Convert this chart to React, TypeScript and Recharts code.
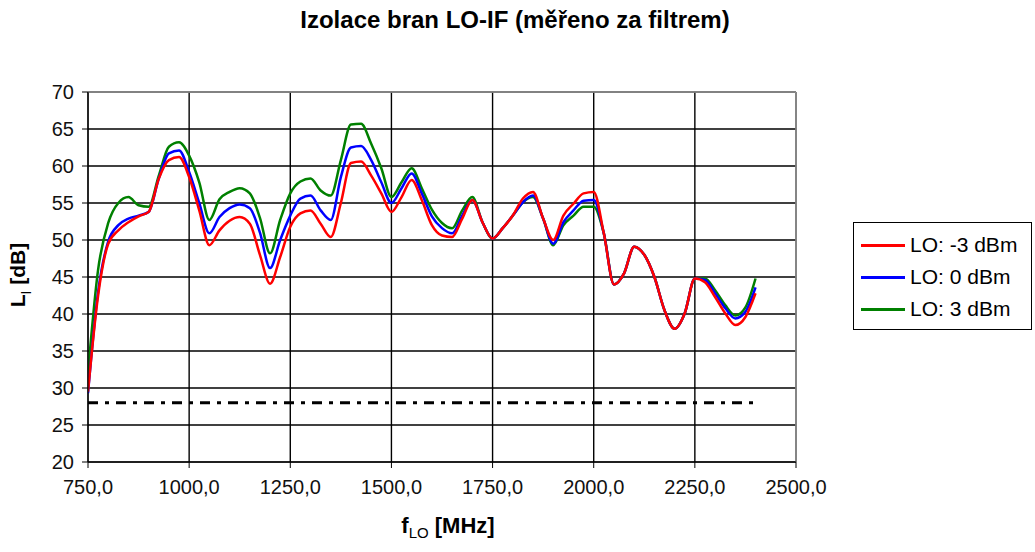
import {
  LineChart,
  Line,
  XAxis,
  YAxis,
  CartesianGrid,
  ReferenceLine,
} from "recharts";

const freq = [
  750, 775, 800, 825, 850, 875, 900, 925, 950, 975, 1000, 1025, 1050, 1075, 1100,
  1125, 1150, 1175, 1200, 1225, 1250, 1275, 1300, 1325, 1350, 1375, 1400, 1425,
  1450, 1475, 1500, 1525, 1550, 1575, 1600, 1625, 1650, 1675, 1700, 1725, 1750,
  1775, 1800, 1825, 1850, 1875, 1900, 1925, 1950, 1975, 2000, 2025, 2050, 2075,
  2100, 2125, 2150, 2175, 2200, 2225, 2250, 2275, 2300, 2325, 2350, 2375, 2400,
];

const loMinus3 = [
  29.5, 42.5, 49.5, 51.3, 52.4, 53.2, 53.8, 58.3, 60.8, 61.2, 58.5, 54, 49.3,
  51.3, 52.6, 53.1, 52.2, 48, 44.1, 47.7, 51.8, 53.6, 54, 52.2, 50.4, 55, 60.4,
  60.6, 58.7, 56.3, 53.8, 55.8, 58.1, 55.4, 52, 50.6, 50.4, 52.9, 55.4, 52.4,
  50.2, 51.6, 53.3, 55.6, 56.5, 52.9, 50, 53.3, 54.9, 56.3, 56.5, 50.9, 44, 45.5,
  49.1, 48, 45, 40.5, 38, 40.1, 44.8, 44.3, 42.3, 40.1, 38.5, 39.6, 42.8,
];

const lo0 = [
  29.3, 43, 49.8, 52, 52.9, 53.3, 53.8, 58.3, 61.7, 62.1, 59.2, 55, 50.9, 53.1,
  54.3, 54.8, 54.3, 51, 46.2, 50, 53.3, 55.6, 56, 54, 52.7, 58.5, 62.5, 62.7,
  60.8, 57.8, 55, 57, 59, 56.3, 53.2, 51.6, 50.9, 53.3, 55.4, 52.4, 50.2, 51.6,
  53.3, 55.1, 56, 52.9, 49.5, 52.4, 54, 55.3, 55.4, 50.9, 44, 45.5, 49.1, 48,
  45, 40.5, 38, 40.1, 44.8, 44.6, 42.8, 40.8, 39.4, 40.3, 43.6,
];

const lo3 = [
  32, 46, 52.3, 55, 55.8, 54.7, 54.5, 58.7, 62.6, 63.2, 61.4, 57.8, 52.7, 55.5,
  56.5, 57, 56.3, 53, 48.2, 52.7, 56.3, 57.9, 58.3, 56.7, 56, 60.8, 65.6, 65.7,
  63, 59.7, 55.8, 57.8, 59.7, 57, 54.1, 52.3, 51.6, 54, 55.8, 52.4, 50.2, 51.6,
  53.3, 55.1, 55.8, 52.9, 49.3, 52, 53.3, 54.5, 54.5, 50.9, 44, 45.5, 49.1, 48,
  45, 40.5, 38, 40.1, 44.8, 44.8, 43.2, 41.2, 39.8, 40.9, 44.8,
];

const limitFreq = [750, 2400];
const limitValue = [28, 28];

const xTicks = [750, 1000, 1250, 1500, 1750, 2000, 2250, 2500];
const yTicks = [20, 25, 30, 35, 40, 45, 50, 55, 60, 65, 70];

const seriesNames = ["LO: -3 dBm", "LO: 0 dBm", "LO: 3 dBm"];
const seriesColors = ["#ff0000", "#0000ff", "#008000"];

const data = freq.map((f, i) => ({
  freq: f,
  m3: loMinus3[i],
  z0: lo0[i],
  p3: lo3[i],
}));

const limitData = limitFreq.map((f, i) => ({ freq: f, limit: limitValue[i] }));

const font = "'Liberation Sans', Arial, sans-serif";
const tickStyle = { fill: "#111", fontSize: 20, fontFamily: font };

export default function App() {
  return (
    <div
      style={{
        position: "absolute",
        left: 0,
        top: 0,
        width: 1035,
        height: 552,
        background: "#fff",
        fontFamily: font,
      }}
    >
      <div
        style={{
          position: "absolute",
          top: 6,
          left: 0,
          width: 1030,
          textAlign: "center",
          fontWeight: "bold",
          fontSize: 24,
        }}
      >
        Izolace bran LO-IF (měřeno za filtrem)
      </div>

      <LineChart
        width={1035}
        height={552}
        data={data}
        margin={{ top: 92, right: 239, left: 0, bottom: 60 }}
      >
        <CartesianGrid stroke="#000" strokeWidth={1.4} />
        <XAxis
          dataKey="freq"
          type="number"
          domain={[750, 2500]}
          ticks={xTicks}
          allowDataOverflow
          height={30}
          tick={tickStyle}
          tickSize={6}
          tickMargin={12}
          tickLine={{ stroke: "#000" }}
          axisLine={{ stroke: "#000" }}
          tickFormatter={(v: number) => v.toFixed(1).replace(".", ",")}
        />
        <YAxis
          domain={[20, 70]}
          ticks={yTicks}
          width={88}
          tick={tickStyle}
          tickSize={6}
          tickMargin={8}
          tickLine={{ stroke: "#000" }}
          axisLine={{ stroke: "#000" }}
        />
        <ReferenceLine y={70} stroke="#999" strokeWidth={1.5} />
        <ReferenceLine x={2500} stroke="#999" strokeWidth={1.5} />
        <Line
          data={limitData}
          dataKey="limit"
          type="linear"
          stroke="#000"
          strokeWidth={3}
          strokeDasharray="10 7 4 7"
          dot={false}
          activeDot={false}
          isAnimationActive={false}
        />
        <Line
          dataKey="p3"
          type="monotone"
          stroke={seriesColors[2]}
          strokeWidth={2.5}
          dot={false}
          activeDot={false}
          isAnimationActive={false}
        />
        <Line
          dataKey="z0"
          type="monotone"
          stroke={seriesColors[1]}
          strokeWidth={2.5}
          dot={false}
          activeDot={false}
          isAnimationActive={false}
        />
        <Line
          dataKey="m3"
          type="monotone"
          stroke={seriesColors[0]}
          strokeWidth={2.5}
          dot={false}
          activeDot={false}
          isAnimationActive={false}
        />
      </LineChart>

      {/* y axis title */}
      <div
        style={{
          position: "absolute",
          left: 20,
          top: 275,
          transform: "translate(-50%, -50%) rotate(-90deg)",
          whiteSpace: "nowrap",
          fontWeight: "bold",
          fontSize: 21,
        }}
      >
        L<sub style={{ fontSize: 14, fontWeight: "normal" }}>I</sub> [dB]
      </div>

      {/* x axis title */}
      <div
        style={{
          position: "absolute",
          left: 448,
          top: 527,
          transform: "translate(-50%, -50%)",
          whiteSpace: "nowrap",
          fontWeight: "bold",
          fontSize: 22,
        }}
      >
        f<sub style={{ fontSize: 15, fontWeight: "normal" }}>LO</sub> [MHz]
      </div>

      {/* legend */}
      <div
        style={{
          position: "absolute",
          left: 853,
          top: 222,
          width: 179,
          height: 108,
          border: "1.5px solid #000",
          boxSizing: "border-box",
          paddingTop: 6,
        }}
      >
        {seriesNames.map((name, i) => (
          <div
            key={name}
            style={{
              display: "flex",
              alignItems: "center",
              height: 32,
              fontSize: 21,
            }}
          >
            <span
              style={{
                display: "inline-block",
                width: 44,
                height: 3,
                background: seriesColors[i],
                marginLeft: 7,
                marginRight: 5,
              }}
            />
            {name}
          </div>
        ))}
      </div>
    </div>
  );
}
